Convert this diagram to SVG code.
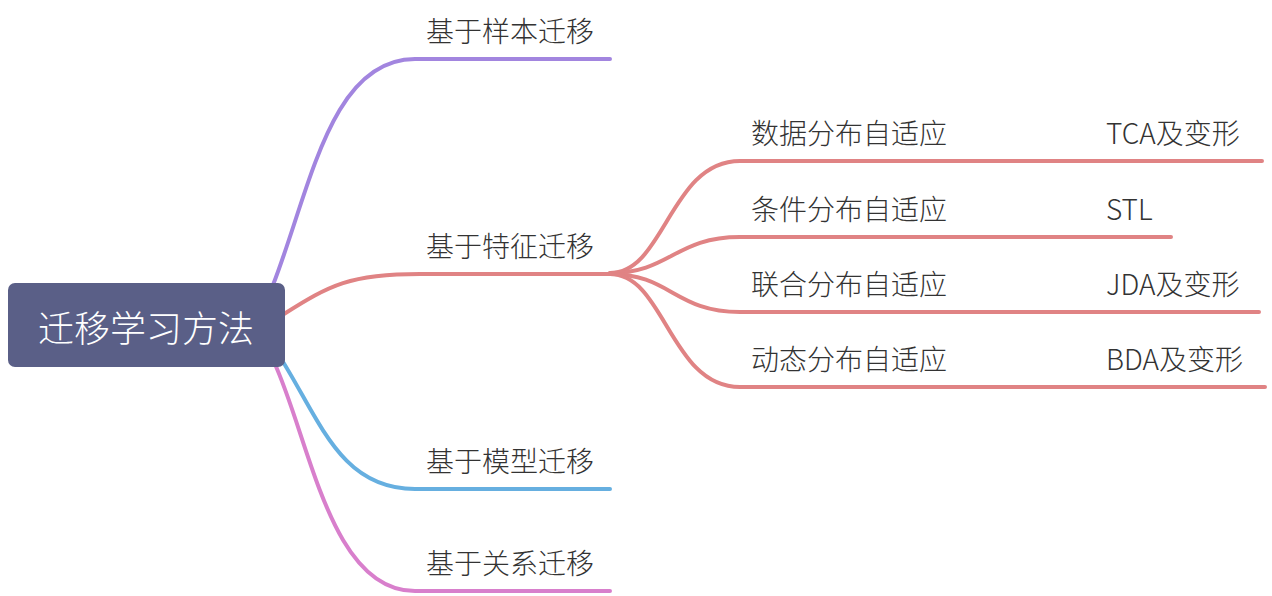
<svg xmlns="http://www.w3.org/2000/svg" width="1272" height="596" viewBox="0 0 1272 596">
<style>
text{font-family:"Noto Sans CJK SC","Noto Sans",sans-serif;fill:#333333;font-size:28px;font-weight:300}
.root{fill:#ffffff;font-size:36px;text-anchor:middle}
.c{fill:none;stroke-width:4;stroke-linecap:round;stroke-linejoin:round}
.pu{stroke:#a285df}.rd{stroke:#e08384}.bl{stroke:#66afe0}.pk{stroke:#d87fcc}
</style>
<rect width="1272" height="596" fill="#ffffff"/>
<g id="connectors">
<path class="c pu" d="M273,285 C310,190 330,59 415,59 L610,59"/>
<path class="c rd" d="M284,314 C330,285 350,274 420,274 L612,274"/>
<path class="c bl" d="M280,357 C320,420 340,489 415,489 L610,489"/>
<path class="c pk" d="M274,362 C310,440 330,591 415,591 L610,591"/>
<path class="c rd" d="M610,273 C665,273 670,161 740,161 L1262,161"/>
<path class="c rd" d="M610,273 C670,273 675,237 740,237 L1171,237"/>
<path class="c rd" d="M610,274 C670,274 675,312 740,312 L1259,312"/>
<path class="c rd" d="M610,274 C665,274 670,387 740,387 L1265,387"/>
</g>
<g id="root">
<rect x="8" y="283" width="277" height="84" rx="7" fill="#5a5f87"/>
<text class="root" x="146" y="342">迁移学习方法</text>
</g>
<g id="n-sample"><text x="426" y="42">基于样本迁移</text></g>
<g id="n-feature"><text x="426" y="257">基于特征迁移</text></g>
<g id="n-model"><text x="426" y="472">基于模型迁移</text></g>
<g id="n-relation"><text x="426" y="574">基于关系迁移</text></g>
<g id="n-data"><text x="751" y="144">数据分布自适应</text></g>
<g id="n-cond"><text x="751" y="220">条件分布自适应</text></g>
<g id="n-joint"><text x="751" y="295">联合分布自适应</text></g>
<g id="n-dyn"><text x="751" y="370">动态分布自适应</text></g>
<g id="n-tca"><text x="1106" y="144">TCA及变形</text></g>
<g id="n-stl"><text x="1106" y="220">STL</text></g>
<g id="n-jda"><text x="1106" y="295">JDA及变形</text></g>
<g id="n-bda"><text x="1106" y="370">BDA及变形</text></g>
</svg>
